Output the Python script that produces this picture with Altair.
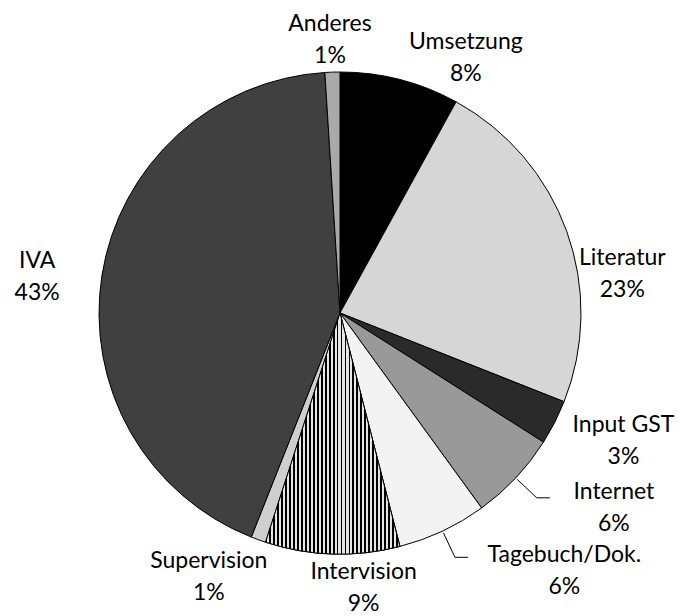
import altair as alt
import pandas as pd
import numpy as np

# ---- data ----
categories = ["Umsetzung", "Literatur", "Input GST", "Internet", "Tagebuch/Dok.",
              "Intervision", "Supervision", "IVA", "Anderes"]
values = [8, 23, 3, 6, 6, 9, 1, 43, 1]
pct_labels = ["8%", "23%", "3%", "6%", "6%", "9%", "1%", "43%", "1%"]
leader_cats = ["Internet", "Tagebuch/Dok."]

# ---- styles / layout ----
fills = ["#000000", "#d6d6d6", "#2a2a2a", "#999999", "#f3f3f3",
         "#808080", "#cfcfcf", "#404040", "#aaaaaa"]
label_angle_deg = [26.3, 82.1, 114.3, 125.4, 139.0, 175.1, 206.4, 276.8, 357.9]
label_radius = [284, 285, 311, 336, 342, 276, 295, 305, 273]
CX, CY, R = 332, 305, 241
LH = 32

df = pd.DataFrame({"cat": categories, "value": values, "pct": pct_labels, "fill": fills})
df["end"] = df["value"].cumsum()
df["start"] = df["end"] - df["value"]
df["label"] = df["cat"] + "\n" + df["pct"]
la = np.radians(label_angle_deg)
df["lx"] = CX + np.array(label_radius) * np.sin(la)
df["ly"] = CY - np.array(label_radius) * np.cos(la) - LH / 2

# leader lines from slice mid-angles
rows = []
for c in leader_cats:
    r = df[df["cat"] == c].iloc[0]
    a = np.radians((r["start"] + r["end"]) / 2 / 100 * 360)
    x1, y1 = CX + 243 * np.sin(a), CY - 243 * np.cos(a)
    x2, y2 = CX + 270 * np.sin(a), CY - 270 * np.cos(a)
    rows += [{"cat": c, "i": 0, "x": x1, "y": y1},
             {"cat": c, "i": 1, "x": x2, "y": y2},
             {"cat": c, "i": 2, "x": x2 + 13, "y": y2}]
lines_df = pd.DataFrame(rows)

theta_scale = alt.Scale(domain=[0, 100], range=[0, 2 * np.pi])

pie = alt.Chart(df).mark_arc(stroke="black", strokeWidth=1, radius=R).encode(
    theta=alt.Theta("start:Q", scale=theta_scale),
    theta2="end:Q",
    fill=alt.Fill("cat:N", scale=alt.Scale(domain=categories, range=fills), legend=None),
    x=alt.value(CX), y=alt.value(CY),
)

# vertical stripe texture for Intervision
n = 34
stops = []
for i in range(n):
    stops += [alt.GradientStop(color="#000000", offset=i / n),
              alt.GradientStop(color="#000000", offset=(i + 0.45) / n),
              alt.GradientStop(color="#e6e6e6", offset=(i + 0.45) / n),
              alt.GradientStop(color="#e6e6e6", offset=(i + 1) / n)]
stripes = alt.Chart(df).transform_filter(alt.datum.cat == "Intervision").mark_arc(
    stroke="black", strokeWidth=1, radius=R,
    fill=alt.LinearGradient(gradient="linear", stops=stops, x1=0, x2=1, y1=0, y2=0),
).encode(
    theta=alt.Theta("start:Q", scale=theta_scale),
    theta2="end:Q",
    x=alt.value(CX), y=alt.value(CY),
)

leaders = alt.Chart(lines_df).mark_line(color="black", strokeWidth=1).encode(
    x=alt.X("x:Q", scale=None, axis=None),
    y=alt.Y("y:Q", scale=None, axis=None),
    detail="cat:N",
    order="i:Q",
)

text = alt.Chart(df).mark_text(
    font="Lato", fontSize=23, lineBreak="\n", lineHeight=LH,
    align="center", baseline="middle", color="black",
).encode(
    x=alt.X("lx:Q", scale=None, axis=None),
    y=alt.Y("ly:Q", scale=None, axis=None),
    text="label:N",
)

chart = alt.layer(pie, stripes, leaders, text).properties(
    width=677, height=600, padding=0
).configure_view(stroke=None)

chart.save("out.html", embed_options={"renderer": "svg", "actions": False})
